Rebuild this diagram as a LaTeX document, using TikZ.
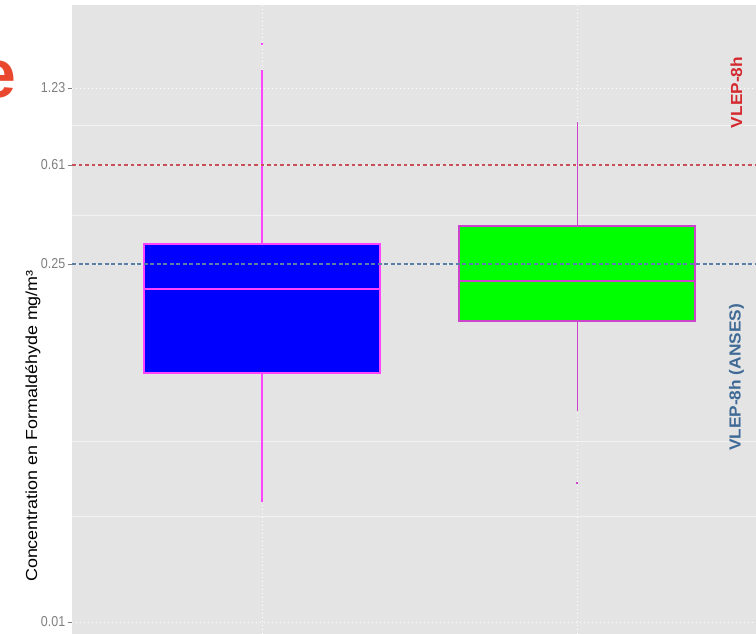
\documentclass[tikz,border=0pt]{standalone}
\usepackage{fontspec}
\setmainfont{Liberation Sans}
\usetikzlibrary{calc}
\definecolor{panelbg}{HTML}{E4E4E4}
\definecolor{minorgrid}{HTML}{F2F2F2}
\definecolor{ticklab}{HTML}{7F7F7F}
\definecolor{redline}{HTML}{C8505A}
\definecolor{blueline}{HTML}{5A80A8}
\definecolor{redtxt}{HTML}{D42A2F}
\definecolor{bluetxt}{HTML}{3F6A96}
\definecolor{bigred}{HTML}{E9482E}
\definecolor{magA}{HTML}{FF44FF}
\definecolor{magB}{HTML}{CC44CC}
\definecolor{boxblue}{HTML}{0000FF}
\definecolor{boxgreen}{HTML}{00FF00}
\tikzset{
  ticklabel/.style={text=ticklab, font=\fontsize{12.5}{13}\selectfont, anchor=east, inner sep=0pt},
  tickmark/.style={draw=ticklab, line width=0.8pt},
  majorgrid/.style={draw=white, line width=0.9pt, dash pattern=on 1pt off 3pt},
  minorline/.style={draw=minorgrid, line width=1pt},
  refred/.style={draw=redline, line width=1.2pt, dash pattern=on 3.5pt off 3pt},
  refblue/.style={draw=blueline, line width=1.2pt, dash pattern=on 4pt off 2.5pt},
  boxA/.style={fill=boxblue, draw=magA, line width=1.5pt},
  boxB/.style={fill=boxgreen, draw=magB, line width=1.3pt},
  whiskA/.style={draw=magA, line width=1.5pt},
  whiskB/.style={draw=magB, line width=0.8pt},
}
\begin{document}
\begin{tikzpicture}[x=1pt,y=-1pt]
\useasboundingbox (0,0) rectangle (756,634);
% panel
\fill[panelbg] (72,5) rectangle (756,634);
% minor grid
\foreach \yy in {126,215,441,516} \draw[minorline] (72,\yy) -- (756,\yy);
% major grid
\foreach \yy in {88,165,264,622} \draw[majorgrid] (72,\yy) -- (756,\yy);
\foreach \xx in {262,577} \draw[majorgrid] (\xx,5) -- (\xx,634);
% ticks and labels
\foreach \yy/\lab in {88/1.23,165/0.61,264/0.25,622/0.01}{
  \draw[tickmark] (67.5,\yy) -- (72,\yy);
  \node[ticklabel] at (65.5,\yy) {\scalebox{1}[1.15]{\lab}};
}
% box A (blue)
\draw[whiskA] (262,244) -- (262,70);
\draw[whiskA] (262,373) -- (262,502);
\node[fill=magA, minimum size=2.2pt, inner sep=0pt] (outA) at (262,44) {};
\draw[boxA] (144,244) rectangle (380,373);
\draw[magA, line width=2pt] (144,289) -- (380,289);
% box B (green)
\draw[whiskB] (577,226) -- (577,122);
\draw[whiskB] (577,321) -- (577,411);
\node[fill=magB, minimum size=2.2pt, inner sep=0pt] (outB) at (577,483) {};
\draw[boxB] (459,226) rectangle (695,321);
\draw[magB, line width=2pt] (459,281) -- (695,281);
% reference lines
\draw[refred] (72,165) -- (756,165);
\draw[refblue] (72,264) -- (756,264);
% right labels
\node[text=redtxt, font=\bfseries\fontsize{16}{17}\selectfont, rotate=90, inner sep=0pt] (vlep) at (736.5,92.5) {\scalebox{1.08}[1]{VLEP-8h}};
\node[text=bluetxt, font=\bfseries\fontsize{16}{17}\selectfont, rotate=90, inner sep=0pt] (anses) at (736.5,377.5) {\scalebox{1.08}[1]{VLEP-8h (ANSES)}};
% axis title
\node[text=black, font=\fontsize{16}{17}\selectfont, rotate=90, inner sep=0pt] (ytitle) at (33,426) {\scalebox{1.12}[1]{Concentration en Formaldéhyde mg/m³}};
% big letter
\node[text=bigred, font=\bfseries\fontsize{68}{70}\selectfont, anchor=base east, inner sep=0pt] (bige) at (17,97.5) {e};
\end{tikzpicture}
\end{document}
